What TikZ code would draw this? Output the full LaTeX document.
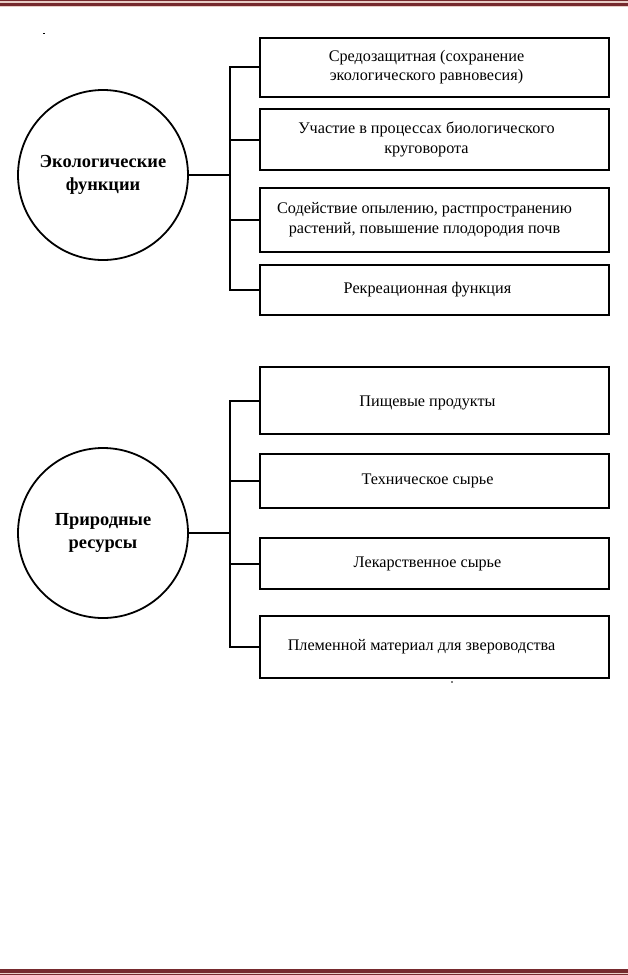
\documentclass[tikz,border=0pt]{standalone}
\usepackage{fontspec}
\setmainfont{Liberation Serif}
\definecolor{frameRed}{RGB}{118,42,46}
\definecolor{framePale}{RGB}{232,205,198}
\begin{document}
\begin{tikzpicture}[x=1pt,y=-1pt,
  hub/.style={circle,draw,line width=1.8pt,minimum size=170pt,inner sep=0pt,align=center,font=\fontsize{18.4}{22.5}\selectfont\bfseries},
  itembox/.style={draw,line width=2pt,rectangle,minimum width=349pt,inner sep=0pt},
  boxtext/.style={align=center,inner sep=0pt,font=\fontsize{16.2}{19.4}\selectfont},
  link/.style={line width=2pt}]
\useasboundingbox (0,0) rectangle (628,975);
\fill[white] (0,0) rectangle (628,975);
% page frame lines
\fill[frameRed] (0,0) rectangle (628,1);
\fill[framePale] (0,1) rectangle (628,3);
\fill[frameRed] (0,3) rectangle (628,6);
\fill[framePale] (0,6) rectangle (628,7);
\fill[frameRed] (0,969) rectangle (628,973);
\fill[framePale] (0,973) rectangle (628,974);
\fill[frameRed] (0,974) rectangle (628,975);
\fill (43,32.5) rectangle (45,34);
\fill[gray] (451,681) rectangle (452.5,682.5);
% top group
\node[hub] (eco) at (103,175) {Экологические\\функции};
\node[itembox,minimum height=59pt] (e1) at (434.5,67) {};
\node[itembox,minimum height=61pt] (e2) at (434.5,139.5) {};
\node[itembox,minimum height=64pt] (e3) at (434.5,219.7) {};
\node[itembox,minimum height=50pt] (e4) at (434.5,290) {};
\node[boxtext] (e1t) at ([xshift=-8pt]e1.center) {Средозащитная (сохранение\\экологического равновесия)};
\node[boxtext] (e2t) at ([xshift=-8pt]e2.center) {Участие в процессах биологического\\круговорота};
\node[boxtext] (e3t) at ([xshift=-10pt]e3.center) {Содействие опылению, растпространению\\растений, повышение плодородия почв};
\node[boxtext] (e4t) at ([xshift=-7pt]e4.center) {Рекреационная функция};
\coordinate (et) at (229.5,175);
\draw[link] (eco.east) -- (et);
\draw[link] (e1.west) -| (et) |- (e4.west);
\draw[link] (e2.west) -- (e2.west -| et);
\draw[link] (e3.west) -- (e3.west -| et);
% bottom group
\node[hub] (res) at (103,533) {Природные\\ресурсы};
\node[itembox,minimum height=67pt] (r1) at (434.5,400.7) {};
\node[itembox,minimum height=54pt] (r2) at (434.5,481.3) {};
\node[itembox,minimum height=51pt] (r3) at (434.5,563.8) {};
\node[itembox,minimum height=62pt] (r4) at (434.5,647) {};
\node[boxtext] (r1t) at ([xshift=-7pt,yshift=-2pt]r1.center) {Пищевые продукты};
\node[boxtext] (r2t) at ([xshift=-7pt]r2.center) {Техническое сырье};
\node[boxtext] (r3t) at ([xshift=-7pt]r3.center) {Лекарственное сырье};
\node[boxtext] (r4t) at ([xshift=-13pt]r4.center) {Племенной материал для звероводства};
\coordinate (rt) at (229.5,533);
\draw[link] (res.east) -- (rt);
\draw[link] (r1.west) -| (rt) |- (r4.west);
\draw[link] (r2.west) -- (r2.west -| rt);
\draw[link] (r3.west) -- (r3.west -| rt);
\end{tikzpicture}
\end{document}
